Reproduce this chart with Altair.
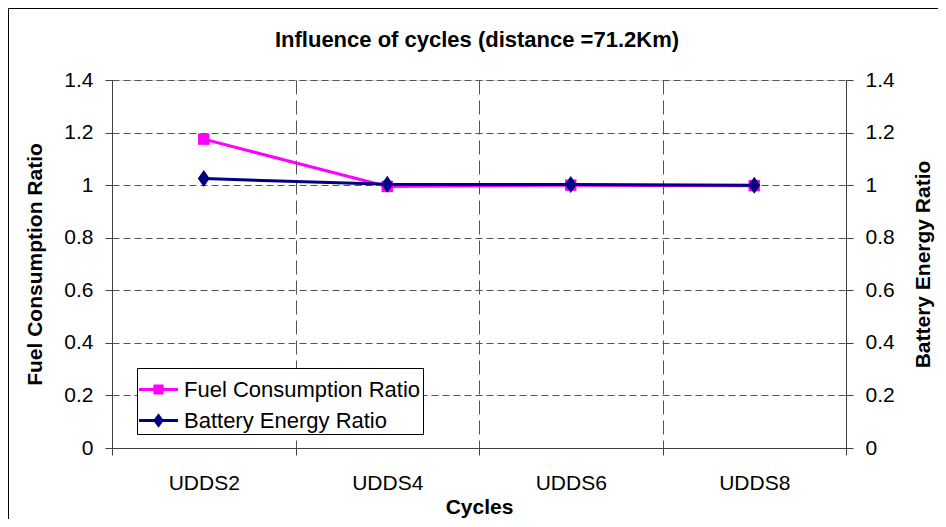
import altair as alt
import pandas as pd

cycles = ["UDDS2", "UDDS4", "UDDS6", "UDDS8"]
fuel_ratio = [1.175, 0.995, 1.0, 0.998]
battery_ratio = [1.025, 1.003, 1.002, 1.0]
series_names = ["Fuel Consumption Ratio", "Battery Energy Ratio"]
series_colors = ["#FF00FF", "#000080"]
y_ticks = [0, 0.2, 0.4, 0.6, 0.8, 1.0, 1.2, 1.4]
chart_title = "Influence of cycles (distance =71.2Km)"

fuel_df = pd.DataFrame({"cycle": cycles, "value": fuel_ratio, "series": series_names[0]})
bat_df = pd.DataFrame({"cycle": cycles, "value": battery_ratio, "series": series_names[1]})
all_df = pd.concat([fuel_df, bat_df], ignore_index=True)

FONT = "Liberation Sans"
FS = 21
AX = "#404040"

DIAMOND = "M0,-1L0.7,0L0,1L-0.7,0Z"
LEG_FUEL = "M-1,-0.08H1V0.08H-1Z M-0.26,-0.26H0.26V0.26H-0.26Z"
LEG_BAT = "M-1,-0.08H1V0.08H-1Z M0,-0.37L0.27,0L0,0.37L-0.27,0Z"

legend = alt.Legend(
    title=None, orient="none", legendX=25, legendY=288,
    labelFont=FONT, labelFontSize=22, labelColor="black", labelLimit=500,
    symbolSize=1521, padding=2, labelOffset=6, rowPadding=0,
    symbolOpacity=1, symbolStrokeWidth=0,
    strokeColor="black", fillColor="white",
)

x_enc = alt.X(
    "cycle:N", sort=cycles,
    scale=alt.Scale(type="band", domain=cycles, paddingInner=0, paddingOuter=0),
    axis=alt.Axis(title="Cycles", tickBand="extent", grid=True, gridDash=[14, 6], gridColor="#555555",
                  tickSize=7, labelPadding=17, labelAngle=0, titlePadding=3,
                  domainColor=AX, tickColor=AX, labelColor="black", titleColor="black",
                  labelFont=FONT, titleFont=FONT, labelFontSize=FS, titleFontSize=FS, titleFontWeight="bold"),
)

def y_enc(orient, title, grid):
    kw = dict(values=y_ticks, format="~g", title=title, orient=orient, grid=grid,
              tickSize=7, labelPadding=12, domainColor=AX, tickColor=AX,
              labelColor="black", titleColor="black", labelFont=FONT, titleFont=FONT,
              labelFontSize=FS, titleFontSize=FS, titleFontWeight="bold")
    if grid:
        kw.update(gridDash=[7, 4], gridColor="#555555")
    if orient == "left":
        kw.update(titlePadding=18)
    else:
        kw.update(titlePadding=18, titleAngle=270, titleBaseline="top")
    return alt.Y("value:Q", scale=alt.Scale(domain=[0, 1.4], nice=False, zero=True), axis=alt.Axis(**kw))

yl = y_enc("left", "Fuel Consumption Ratio", True)
yr = y_enc("right", "Battery Energy Ratio", False)

legend_layer = alt.Chart(all_df).mark_point(filled=True, opacity=0, size=1521).encode(
    x=x_enc, y=yl,
    color=alt.Color("series:N", scale=alt.Scale(domain=series_names, range=series_colors), legend=legend),
    shape=alt.Shape("series:N", scale=alt.Scale(domain=series_names, range=[LEG_FUEL, LEG_BAT]), legend=legend),
)
fuel_line = alt.Chart(fuel_df).mark_line(strokeWidth=3, color=series_colors[0]).encode(x=x_enc, y=yl)
fuel_pts = alt.Chart(fuel_df).mark_point(shape="square", size=130, filled=True, opacity=1, color=series_colors[0]).encode(x=x_enc, y=yl)
fuel_layer = alt.layer(legend_layer, fuel_line, fuel_pts)

bat_line = alt.Chart(bat_df).mark_line(strokeWidth=3, color=series_colors[1]).encode(x=x_enc, y=yr)
bat_pts = alt.Chart(bat_df).mark_point(shape=DIAMOND, size=289, filled=True, opacity=1, color=series_colors[1]).encode(x=x_enc, y=yr)
bat_layer = alt.layer(bat_line, bat_pts)

frame = alt.Chart(pd.DataFrame({"f": [0]})).mark_rect(fillOpacity=0, stroke="black", strokeWidth=1).encode(
    x=alt.value(-103.5), x2=alt.value(900), y=alt.value(-71.5), y2=alt.value(600)
)

title_mark = alt.Chart(pd.DataFrame({"t": [chart_title]})).mark_text(
    font=FONT, fontSize=22, fontWeight="bold", color="black", align="center", baseline="alphabetic"
).encode(text="t:N", x=alt.value(365), y=alt.value(-33))

chart = alt.layer(frame, title_mark, fuel_layer, bat_layer).resolve_scale(y="independent").properties(
    width=734, height=368,
    autosize=alt.AutoSizeParams(type="none"),
    padding={"left": 104, "top": 72, "right": 92, "bottom": 71},
).configure_view(stroke=None).configure(background="white")

chart.save("out.html", embed_options={"renderer": "svg", "actions": False})
